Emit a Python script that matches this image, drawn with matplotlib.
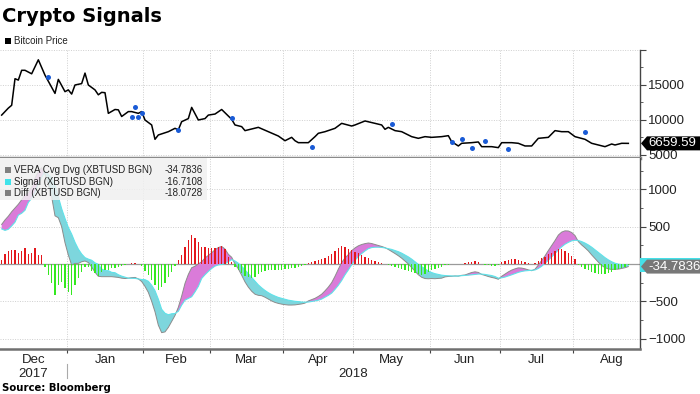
"""
Crypto Signals - Bitcoin price with VERA convergence/divergence panel.
Weekday (trading-day) axis, Bloomberg-style layout.
"""

import numpy as np
import pandas as pd
import matplotlib
matplotlib.use("Agg")
import matplotlib.pyplot as plt
from matplotlib import font_manager
from matplotlib.patches import Rectangle, Polygon
from matplotlib.ticker import MultipleLocator

# ---- data -----------------------------------------------------------------
START, END = "2017-12-04", "2018-08-23"      # weekdays shown on the chart

price_dates = [
    "2017-12-04", "2017-12-06", "2017-12-07", "2017-12-08", "2017-12-11",
    "2017-12-12", "2017-12-13", "2017-12-15", "2017-12-19", "2017-12-21",
    "2017-12-26", "2017-12-27", "2017-12-29", "2018-01-01", "2018-01-02",
    "2018-01-03", "2018-01-05", "2018-01-08", "2018-01-09", "2018-01-11",
    "2018-01-12", "2018-01-15", "2018-01-16", "2018-01-17", "2018-01-19",
    "2018-01-22", "2018-01-23", "2018-01-25", "2018-01-26", "2018-01-30",
    "2018-01-31", "2018-02-01", "2018-02-05", "2018-02-06", "2018-02-07",
    "2018-02-12", "2018-02-14", "2018-02-15", "2018-02-16", "2018-02-20",
    "2018-02-21", "2018-02-23", "2018-02-27", "2018-02-28", "2018-03-02",
    "2018-03-06", "2018-03-09", "2018-03-12", "2018-03-14", "2018-03-15",
    "2018-03-21", "2018-03-26", "2018-03-29", "2018-04-02", "2018-04-04",
    "2018-04-05", "2018-04-06", "2018-04-11", "2018-04-13", "2018-04-16",
    "2018-04-18", "2018-04-23", "2018-04-25", "2018-04-30", "2018-05-01",
    "2018-05-04", "2018-05-09", "2018-05-11", "2018-05-14", "2018-05-15",
    "2018-05-17", "2018-05-21", "2018-05-24", "2018-05-28", "2018-05-30",
    "2018-06-01", "2018-06-06", "2018-06-08", "2018-06-11", "2018-06-13",
    "2018-06-14", "2018-06-19", "2018-06-21", "2018-06-22", "2018-06-27",
    "2018-06-29", "2018-07-02", "2018-07-05", "2018-07-09", "2018-07-11",
    "2018-07-13", "2018-07-17", "2018-07-20", "2018-07-24", "2018-07-26",
    "2018-07-30", "2018-08-01", "2018-08-06", "2018-08-08", "2018-08-10",
    "2018-08-14", "2018-08-16", "2018-08-17", "2018-08-21", "2018-08-23",
]
price_vals = [
    10700, 11700, 12100, 15900, 15700, 17100, 17100, 16600, 18600, 16400,
    13800, 15800, 14050, 14300, 13700, 15000, 15200, 16700, 15000, 14300,
    13600, 13950, 13900, 10950, 11500, 11450, 10500, 11200, 11200, 10950,
    11200, 10000, 9290, 7240, 7860, 8330, 8810, 8600, 9760, 10200,
    11800, 10000, 10200, 10700, 10850, 11500, 10100, 9290, 9050, 8480,
    8950, 8330, 7710, 7040, 7520, 7040, 6760, 6760, 7620, 8100,
    8330, 8810, 9520, 9140, 9290, 9860, 9520, 9290, 8670, 8950,
    8480, 8330, 7620, 7380, 7620, 7520, 7620, 7760, 6900, 6290,
    6670, 6760, 6860, 6190, 6190, 6050, 6760, 6760, 6670, 6290,
    6290, 7380, 7520, 8480, 8330, 8330, 7620, 7240, 6670, 6430,
    6190, 6570, 6430, 6670, 6659.59,
]

# blue signal markers on the price panel
marker_dates = [
    "2017-12-22", "2018-01-26", "2018-01-29", "2018-01-30", "2018-01-31",
    "2018-02-15", "2018-03-09", "2018-04-12", "2018-05-16", "2018-06-11",
    "2018-06-14", "2018-06-19", "2018-06-25", "2018-07-04", "2018-08-06",
]
marker_vals = [
    16190, 10480, 11810, 10380, 10950, 8570, 10240, 6190, 9430, 6900,
    7240, 6050, 7040, 5860, 8330,
]

# VERA Cvg Dvg (one value per trading day)
macd_vals = [
    530, 590, 640, 700, 750, 800, 860, 930, 960, 1030,
    1150, 1240, 1290, 1200, 1060, 900, 645, 620, 500, 285,
    120, -15, 8, 8, 30, 40, 20, -40, -110, -165,
    -170, -170, -170, -170, -175, -180, -190, -195, -190, -183,
    -180, -200, -235, -300, -380, -500, -640, -820, -920, -910,
    -850, -770, -690, -580, -430, -260, -140, -50, -30, 0,
    30, 80, 115, 150, 190, 220, 235, 200, 130, 90,
    0, -65, -150, -240, -310, -365, -405, -420, -425, -445,
    -470, -495, -515, -528, -538, -545, -550, -550, -548, -542,
    -535, -524, -495, -478, -460, -435, -405, -360, -310, -250,
    -165, -70, 20, 80, 125, 178, 215, 243, 261, 273,
    281, 274, 261, 247, 235, 219, 195, 168, 140, 111,
    78, 40, 1, -47, -95, -144, -178, -195, -198, -195,
    -197, -194, -190, -173, -167, -165, -160, -163, -152, -147,
    -130, -114, -105, -113, -140, -153, -168, -180, -190, -205,
    -165, -135, -106, -82, -65, -52, -55, -65, -79, -90,
    -70, -15, 46, 108, 180, 247, 314, 387, 427, 444,
    442, 422, 381, 300, 255, 217, 175, 122, 74, 25,
    -19, -49, -66, -73, -70, -69, -59, -50, -34.7836,
]
signal_vals = [
    470, 450, 465, 510, 560, 655, 680, 720, 825, 880,
    960, 1080, 1160, 1240, 1200, 1150, 1060, 900, 740, 610,
    490, 400, 290, 200, 133, 85, 65, 50, 15, -5,
    -67, -90, -90, -112, -117, -144, -163, -177, -190, -192,
    -193, -200, -208, -210, -232, -285, -358, -471, -607, -660,
    -680, -667, -663, -634, -551, -484, -462, -439, -374, -300,
    -194, -144, -100, -60, -29, -12, -6, 3, 32, 59,
    40, 10, -30, -80, -130, -180, -230, -280, -320, -355,
    -385, -410, -430, -448, -460, -473, -485, -492, -500, -504,
    -510, -512, -510, -503, -495, -485, -470, -445, -420, -390,
    -340, -285, -221, -145, -80, -10, 50, 100, 140, 175,
    205, 220, 225, 225, 222, 215, 205, 195, 180, 165,
    145, 120, 95, 65, 30, -5, -35, -65, -95, -115,
    -130, -140, -150, -155, -158, -160, -163, -160, -156, -155,
    -150, -145, -140, -135, -135, -140, -148, -155, -168, -190,
    -185, -175, -160, -145, -128, -112, -100, -92, -88, -85,
    -80, -60, -30, 10, 50, 95, 140, 190, 230, 265,
    290, 310, 318, 315, 300, 280, 255, 225, 190, 155,
    120, 85, 55, 30, 10, -2, -10, -14, -16.7108,
]
diff_vals = [
    60, 140, 175, 190, 190, 145, 180, 210, 135, 150,
    210, 120, 120, -40, -148, -260, -415, -280, -237, -326,
    -371, -415, -282, -192, -103, -45, -45, -90, -125, -160,
    -103, -80, -80, -58, -58, -36, -27, -18, 0, 9,
    13, 0, -27, -90, -148, -215, -282, -349, -313, -250,
    -170, -103, -27, 54, 121, 224, 322, 389, 344, 300,
    224, 224, 215, 210, 219, 232, 241, 197, 98, 31,
    -40, -75, -120, -160, -180, -185, -175, -140, -105, -90,
    -85, -85, -85, -80, -78, -72, -65, -58, -48, -38,
    -25, -12, 15, 25, 35, 50, 65, 85, 110, 140,
    175, 215, 241, 225, 205, 188, 165, 143, 121, 98,
    76, 54, 36, 22, 13, 4, -10, -27, -40, -54,
    -67, -80, -94, -112, -125, -139, -143, -130, -103, -80,
    -67, -54, -40, -18, -9, -5, 3, -3, 4, 8,
    20, 31, 35, 22, -5, -13, -20, -25, -22, -15,
    20, 40, 54, 63, 63, 60, 45, 27, 9, -5,
    10, 45, 76, 98, 130, 152, 174, 197, 197, 179,
    152, 112, 63, -15, -45, -63, -80, -103, -116, -130,
    -139, -134, -121, -103, -80, -67, -49, -36, -18.0728,
]

legend_rows = [
    ("VERA Cvg Dvg (XBTUSD BGN)", "-34.7836", "#808080"),
    ("Signal (XBTUSD BGN)", "-16.7108", "#3fe3ea"),
    ("Diff (XBTUSD BGN)", "-18.0728", "#808080"),
]

FONT = "Liberation Sans"
GRID = dict(color="#cfcfcf", linestyle=(0, (1, 1.5)), linewidth=0.7)
RED, GREEN = "#e3171c", "#35e820"
MAGENTA, CYAN = "#da7bd9", "#7dd6dd"

# condensed face for the small keys if the system has one
_names = {f.name for f in font_manager.fontManager.ttflist}
if "Liberation Sans Narrow" in _names:
    KEY_FONT, KEY_SIZE = "Liberation Sans Narrow", 8.2
else:
    KEY_FONT, KEY_SIZE = "Liberation Sans", 7.0


def value_tag(fig, ax, value, text, face, color="white", arrow=True):
    """Bloomberg-like last-value tag sitting on the right axis."""
    W, H = fig.bbox.width, fig.bbox.height
    x0, y = ax.transData.transform((ax.get_xlim()[1], value))
    h = 7
    if arrow:
        pts = [(x0 + 1, y), (x0 + 7, y + h), (W, y + h), (W, y - h), (x0 + 7, y - h)]
    else:
        pts = [(x0, y + h), (W, y + h), (W, y - h), (x0, y - h)]
    fig.add_artist(Polygon([(px / W, py / H) for px, py in pts], closed=True,
                           transform=fig.transFigure, fc=face, ec="none", zorder=6))
    if text:
        fig.text((x0 + 8) / W, y / H, text, color=color, fontsize=9.5,
                 ha="left", va="center", zorder=7)


def style_axis(ax):
    for side in ("left", "top"):
        ax.spines[side].set_visible(False)
    ax.spines["right"].set_color("#444444")
    ax.spines["right"].set_linewidth(1.0)
    ax.yaxis.tick_right()
    ax.tick_params(axis="y", which="major", direction="out", length=4, width=0.8,
                   color="#444444", labelsize=9.5, labelcolor="#222222", pad=2)
    ax.tick_params(axis="y", which="minor", direction="out", length=2.5, width=0.6,
                   color="#444444")
    ax.set_facecolor("white")


def main():
    plt.rcParams["font.family"] = FONT
    days = pd.bdate_range(START, END)
    n = len(days)
    for arr in (macd_vals, signal_vals, diff_vals):
        assert len(arr) == n
    x = np.arange(n)
    macd = np.array(macd_vals, float)
    sig = np.array(signal_vals, float)
    diff = np.array(diff_vals, float)
    xp = days.get_indexer(pd.to_datetime(price_dates))
    xm = days.get_indexer(pd.to_datetime(marker_dates))

    # month boundaries on the trading-day axis
    full = pd.bdate_range(START, "2018-08-31")
    first = [i for i in range(1, len(full)) if full[i].month != full[i - 1].month]
    bounds = [i - 0.5 for i in first]
    xlim = (-0.5, 191.5)

    fig = plt.figure(figsize=(7.0, 3.94), dpi=100)
    ax_p = fig.add_axes([0, 1 - 158 / 394, 640 / 700, 108 / 394])
    ax_m = fig.add_axes([0, 1 - 349 / 394, 640 / 700, 191 / 394])

    # --- price panel ---
    style_axis(ax_p)
    ax_p.plot(xp, price_vals, color="black", lw=1.1, zorder=3)
    ax_p.scatter(xm, marker_vals, s=13, color="#1a5bd6", lw=0, zorder=4)
    ax_p.set_xlim(*xlim)
    ax_p.set_ylim(4570, 20000)
    ax_p.set_yticks([5000, 10000, 15000, 20000])
    ax_p.set_yticklabels(["5000", "10000", "15000", ""])
    ax_p.yaxis.set_minor_locator(MultipleLocator(2500))
    ax_p.set_xticks(bounds)
    ax_p.tick_params(axis="x", length=0, labelbottom=False)
    ax_p.grid(True, which="major", **GRID)
    ax_p.spines["bottom"].set_color("#8a8a8a")
    ax_p.spines["bottom"].set_linewidth(2.5)

    # --- convergence / divergence panel ---
    style_axis(ax_m)
    ax_m.set_xlim(*xlim)
    ax_m.set_ylim(-1139, 1420)
    ax_m.axhline(0, color="#9a9a9a", lw=0.9, zorder=1.5)
    ax_m.fill_between(x, macd, sig, where=macd >= sig, interpolate=True,
                      color=MAGENTA, lw=0, zorder=2)
    ax_m.fill_between(x, macd, sig, where=macd < sig, interpolate=True,
                      color=CYAN, lw=0, zorder=2)
    ax_m.plot(x, macd, color="#8c8c8c", lw=0.7, zorder=2.2)
    ax_m.plot(x, sig, color="#5fe2e9", lw=0.8, zorder=2.2)
    ax_m.bar(x, diff, width=0.42, color=np.where(diff >= 0, RED, GREEN),
             lw=0, zorder=3)
    ax_m.set_yticks([-1000, -500, 500, 1000])
    ax_m.yaxis.set_minor_locator(MultipleLocator(250))
    ax_m.set_xticks(bounds)
    ax_m.set_xticklabels([])
    ax_m.tick_params(axis="x", direction="out", length=3, width=0.8, color="#444444")
    ax_m.grid(True, which="major", **GRID)
    ax_m.spines["bottom"].set_color("#707070")
    ax_m.spines["bottom"].set_linewidth(1.8)

    # month / year labels
    edges = [xlim[0]] + bounds + [len(full) - 0.5]
    names = ["Dec", "Jan", "Feb", "Mar", "Apr", "May", "Jun", "Jul", "Aug"]
    xt = ax_m.get_xaxis_transform()
    for name, a, b in zip(names, edges[:-1], edges[1:]):
        ax_m.annotate(name, xy=((a + b) / 2, 0), xycoords=xt, xytext=(0, -14),
                      textcoords="offset pixels", ha="center", va="baseline",
                      fontsize=9.5, color="#222222")
    ax_m.annotate("2017", xy=((edges[0] + edges[1]) / 2, 0), xycoords=xt,
                  xytext=(0, -28), textcoords="offset pixels", ha="center",
                  va="baseline", fontsize=9.5, color="#222222")
    ax_m.annotate("2018", xy=((edges[1] + xlim[1]) / 2, 0), xycoords=xt,
                  xytext=(0, -28), textcoords="offset pixels", ha="center",
                  va="baseline", fontsize=9.5, color="#222222")
    ax_m.plot([edges[1], edges[1]], [-0.08, -0.152], transform=xt,
              color="#aaaaaa", lw=0.8, clip_on=False)

    # legend box of the lower panel
    ax_m.add_patch(Rectangle((0, 0.78), 207 / 640, 0.22, transform=ax_m.transAxes,
                             fc="#f0f0f0", ec="none", alpha=0.85, zorder=5))
    for k, (label, val, col) in enumerate(legend_rows):
        yy = 0.937 - k * 0.061
        ax_m.add_patch(Rectangle((5 / 640, yy - 0.016), 6 / 640, 0.032,
                                 transform=ax_m.transAxes, fc=col, ec="none", zorder=6))
        ax_m.text(14 / 640, yy, label, transform=ax_m.transAxes, fontsize=KEY_SIZE,
                  family=KEY_FONT, va="center", ha="left", color="#222222", zorder=6)
        ax_m.text(203 / 640, yy, val, transform=ax_m.transAxes, fontsize=KEY_SIZE,
                  family=KEY_FONT, va="center", ha="right", color="#222222", zorder=6)

    # last-value tags
    value_tag(fig, ax_p, price_vals[-1], "6659.59", "black")
    value_tag(fig, ax_m, sig[-1], "", "#45e0e8", arrow=False)
    value_tag(fig, ax_m, macd[-1], "-34.7836", "#787878")

    # title, series key, source
    fig.text(0.003, 1 - 22 / 394, "Crypto Signals", family="DejaVu Sans",
             weight="bold", fontsize=14, va="baseline", ha="left", color="black")
    fig.add_artist(Rectangle((5 / 700, 1 - 44 / 394), 6 / 700, 6 / 394,
                             transform=fig.transFigure, fc="black", ec="none"))
    fig.text(14 / 700, 1 - 41 / 394, "Bitcoin Price", fontsize=KEY_SIZE,
             family=KEY_FONT, va="center", ha="left", color="#222222")
    fig.text(0.003, 3 / 394, "Source: Bloomberg", family="DejaVu Sans",
             weight="bold", fontsize=7.3, va="baseline", ha="left", color="black")

    fig.savefig("out.png", dpi=100, facecolor="white")
    plt.close(fig)


if __name__ == "__main__":
    main()
